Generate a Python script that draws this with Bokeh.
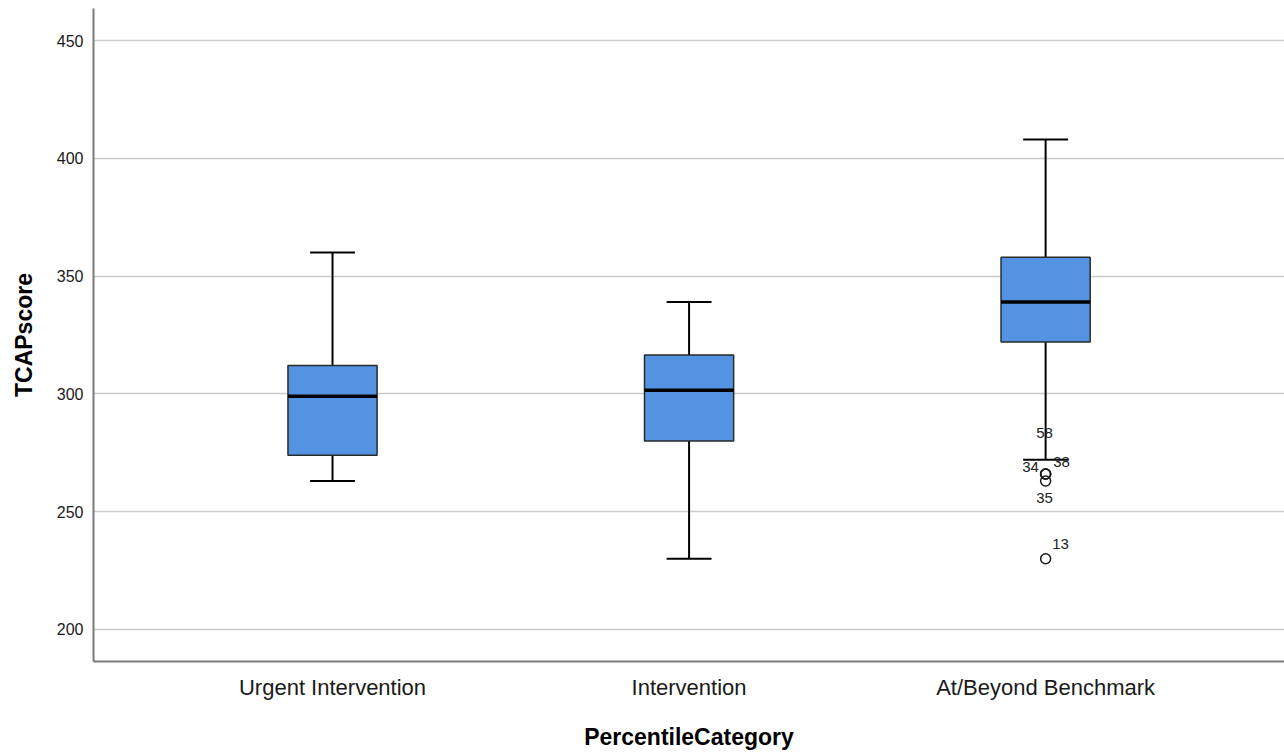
from bokeh.plotting import figure
from bokeh.models import ColumnDataSource, FixedTicker
from bokeh.core.properties import value
from bokeh.embed import file_html
from bokeh.resources import INLINE

# ---- data ----
categories = ["Urgent Intervention", "Intervention", "At/Beyond Benchmark"]
whisker_low = [263, 230, 272]
q1 = [274, 280, 322]
median = [299, 301.5, 339]
q3 = [312, 316.5, 358]
whisker_high = [360, 339, 408]

outlier_cat = ["At/Beyond Benchmark"] * 5
outlier_ids = ["58", "34", "38", "35", "13"]
outlier_vals = [266, 266, 266, 263, 230]

y_ticks = [200, 250, 300, 350, 400, 450]

# ---- styling ----
FONT = "Liberation Sans"
BOX_W = 0.25
CAP_HW = 0.063

xpos = [i + 1 for i in range(len(categories))]
box_src = ColumnDataSource(dict(
    x=xpos,
    x0=[x - BOX_W / 2 for x in xpos],
    x1=[x + BOX_W / 2 for x in xpos],
    c0=[x - CAP_HW for x in xpos],
    c1=[x + CAP_HW for x in xpos],
    lo=whisker_low, q1=q1, med=median, q3=q3, hi=whisker_high,
))

ox = [categories.index(c) + 1 for c in outlier_cat]
# label placement offsets in screen pixels (style)
lab_dx = [-1, -15, 16, -1, 15]
lab_dy = [-41, -7, -12, 17, -15]
out_src = ColumnDataSource(dict(x=ox, y=outlier_vals, t=outlier_ids, dx=lab_dx, dy=lab_dy))

p = figure(width=1284, height=752,
           x_range=(0.3296, 3.670), y_range=(186.4, 463.6),
           output_backend="svg", toolbar_location=None,
           min_border_left=93, min_border_right=0, min_border_top=8, min_border_bottom=90)

p.outline_line_color = None
p.background_fill_color = "white"
p.xgrid.grid_line_color = None
p.ygrid.grid_line_color = "#cbcbcb"
p.ygrid.grid_line_width = 1.5
p.yaxis.ticker = FixedTicker(ticks=y_ticks)
p.xaxis.ticker = FixedTicker(ticks=xpos)
p.xaxis.major_label_overrides = {x: c for x, c in zip(xpos, categories)}

for ax in (p.xaxis, p.yaxis):
    ax.axis_line_color = "#7a7a7a"
    ax.axis_line_width = 2
    ax.major_tick_line_color = None
    ax.minor_tick_line_color = None
    ax.major_label_text_font = FONT
    ax.major_label_text_color = "#1a1a1a"
    ax.axis_label_text_font = FONT
    ax.axis_label_text_font_style = "bold"
    ax.axis_label_text_color = "#000000"

p.xaxis.axis_label = "PercentileCategory"
p.yaxis.axis_label = "TCAPscore"
p.xaxis.major_label_text_font_size = "22px"
p.yaxis.major_label_text_font_size = "16px"
p.xaxis.axis_label_text_font_size = "23px"
p.yaxis.axis_label_text_font_size = "23px"
p.xaxis.major_label_standoff = 7
p.yaxis.major_label_standoff = 4
p.xaxis.axis_label_standoff = 21
p.yaxis.axis_label_standoff = 17

# whiskers
p.segment(x0="x", y0="q3", x1="x", y1="hi", source=box_src, line_color="black", line_width=2)
p.segment(x0="x", y0="lo", x1="x", y1="q1", source=box_src, line_color="black", line_width=2)
p.segment(x0="c0", y0="hi", x1="c1", y1="hi", source=box_src, line_color="black", line_width=2)
p.segment(x0="c0", y0="lo", x1="c1", y1="lo", source=box_src, line_color="black", line_width=2)
# boxes
p.vbar(x="x", width=BOX_W, bottom="q1", top="q3", source=box_src,
       fill_color="#5393e2", line_color="#2a2a2a", line_width=1.5)
# medians
p.segment(x0="x0", y0="med", x1="x1", y1="med", source=box_src, line_color="black", line_width=3.5)

# outliers
p.scatter(x="x", y="y", source=out_src, marker="circle", size=10,
          fill_color=None, line_color="#1a1a1a", line_width=1.5)
p.text(x="x", y="y", text="t", source=out_src, x_offset="dx", y_offset="dy",
       text_font=value(FONT), text_font_size="15px", text_color="#222222",
       text_align="center", text_baseline="middle")

open("out.html", "w").write(file_html(p, INLINE))
